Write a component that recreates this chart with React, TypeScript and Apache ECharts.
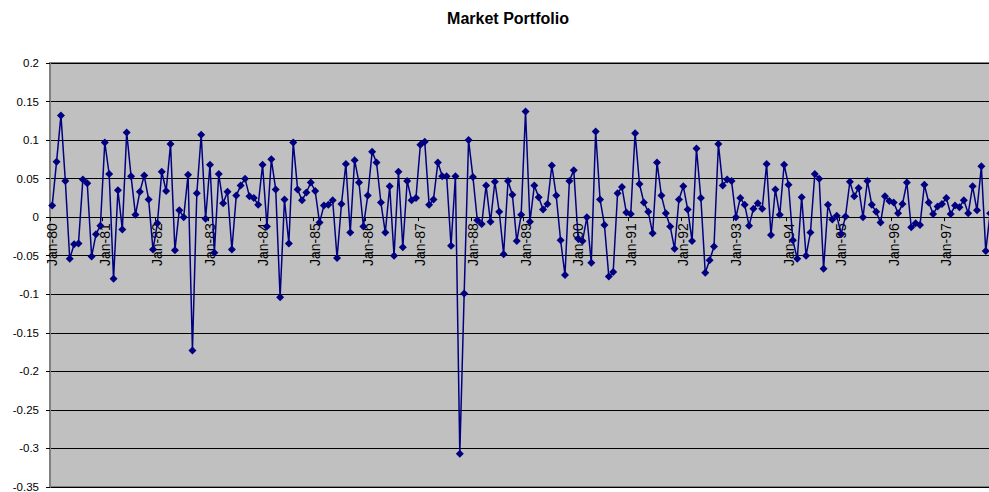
import React, { useEffect, useRef } from "react";
import * as echarts from "echarts";

const TITLE = "Market Portfolio";
const MONTHS = ["Jan", "Feb", "Mar", "Apr", "May", "Jun", "Jul", "Aug", "Sep", "Oct", "Nov", "Dec"];
const YEARS = ["80", "81", "82", "83", "84", "85", "86", "87", "88", "89", "90", "91", "92", "93", "94", "95", "96", "97"];

const r1980 = [0.015, 0.072, 0.132, 0.047, -0.054, -0.035, -0.034, 0.049, 0.044, -0.051, -0.022, -0.011];
const r1981 = [0.097, 0.056, -0.080, 0.035, -0.016, 0.110, 0.053, 0.003, 0.033, 0.054, 0.023, -0.042];
const r1982 = [-0.008, 0.059, 0.034, 0.095, -0.043, 0.009, 0.000, 0.055, -0.173, 0.031, 0.107, -0.002];
const r1983 = [0.068, -0.046, 0.056, 0.018, 0.033, -0.042, 0.028, 0.041, 0.050, 0.027, 0.025, 0.016];
const r1984 = [0.068, -0.012, 0.075, 0.036, -0.104, 0.023, -0.034, 0.097, 0.036, 0.022, 0.032, 0.045];
const r1985 = [0.034, -0.007, 0.015, 0.016, 0.022, -0.053, 0.017, 0.069, -0.020, 0.074, 0.045, -0.012];
const r1986 = [0.028, 0.085, 0.071, 0.019, -0.020, 0.040, -0.050, 0.059, -0.039, 0.047, 0.022, 0.025];
const r1987 = [0.094, 0.098, 0.016, 0.023, 0.071, 0.053, 0.053, -0.037, 0.053, -0.307, -0.099, 0.100];
const r1988 = [0.052, -0.004, -0.009, 0.041, -0.006, 0.046, 0.007, -0.048, 0.047, 0.029, -0.031, 0.003];
const r1989 = [0.137, -0.006, 0.041, 0.026, 0.010, 0.017, 0.067, 0.028, -0.030, -0.075, 0.047, 0.061];
const r1990 = [-0.028, -0.031, 0.000, -0.059, 0.111, 0.023, -0.010, -0.077, -0.071, 0.031, 0.039, 0.006];
const r1991 = [0.004, 0.109, 0.043, 0.019, 0.007, -0.021, 0.071, 0.028, 0.005, -0.012, -0.041, 0.023];
const r1992 = [0.040, 0.010, -0.031, 0.089, 0.025, -0.072, -0.056, -0.038, 0.095, 0.041, 0.049, 0.047];
const r1993 = [0.000, 0.025, 0.016, -0.011, 0.011, 0.018, 0.011, 0.069, -0.023, 0.036, 0.003, 0.068];
const r1994 = [0.042, -0.030, -0.054, 0.026, -0.050, -0.020, 0.056, 0.050, -0.067, 0.016, -0.003, 0.002];
const r1995 = [-0.022, 0.001, 0.046, 0.027, 0.038, 0.000, 0.047, 0.016, 0.007, -0.007, 0.027, 0.021];
const r1996 = [0.019, 0.005, 0.017, 0.045, -0.013, -0.008, -0.010, 0.042, 0.019, 0.004, 0.014, 0.017];
const r1997 = [0.025, 0.004, 0.015, 0.013, 0.022, 0.005, 0.040, 0.009, 0.066, -0.044, 0.005];

const Y_MIN = -0.35;
const Y_MAX = 0.2;
const Y_STEP = 0.05;

const GRID_TOP = 63;
const GRID_HEIGHT = 424;

export default function App() {
  const ref = useRef<HTMLDivElement>(null);

  useEffect(() => {
    if (!ref.current) return;
    const chart = echarts.init(ref.current, undefined, { renderer: "svg" });

    const categories: string[] = [];
    YEARS.forEach((y) => MONTHS.forEach((m) => categories.push(`${m}-${y}`)));
    const values = [
      ...r1980, ...r1981, ...r1982, ...r1983, ...r1984, ...r1985,
      ...r1986, ...r1987, ...r1988, ...r1989, ...r1990, ...r1991,
      ...r1992, ...r1993, ...r1994, ...r1995, ...r1996, ...r1997,
    ];

    const font = "Liberation Sans";
    // distance from the bottom of the plot to the zero line, in px
    const zeroOffset = (0 - Y_MIN) / (Y_MAX - Y_MIN) * GRID_HEIGHT;

    chart.setOption({
      animation: false,
      backgroundColor: "#ffffff",
      textStyle: { fontFamily: font },
      graphic: [
        {
          type: "text",
          x: 508,
          y: 18,
          style: {
            text: TITLE,
            fill: "#000",
            font: `bold 16px "${font}"`,
            textAlign: "center",
            textVerticalAlign: "middle",
            align: "center",
            verticalAlign: "middle",
          },
        },
      ],
      grid: {
        left: 50,
        top: GRID_TOP,
        width: 946.7,
        height: GRID_HEIGHT,
        show: true,
        backgroundColor: "#C0C0C0",
        borderColor: "#808080",
        borderWidth: 2,
        containLabel: false,
        outerBoundsMode: "none",
      },
      xAxis: {
        type: "category",
        data: categories,
        boundaryGap: true,
        position: "bottom",
        offset: -zeroOffset,
        axisLine: { show: true, onZero: false, lineStyle: { color: "#000", width: 1 } },
        axisTick: { show: true, interval: 11, length: 4, lineStyle: { color: "#000" } },
        axisLabel: {
          interval: 11,
          rotate: 90,
          margin: 6,
          fontSize: 14,
          color: "#000",
          fontFamily: font,
          hideOverlap: false,
        },
        splitLine: { show: false },
      },
      yAxis: {
        type: "value",
        min: Y_MIN,
        max: Y_MAX,
        interval: Y_STEP,
        axisLine: { show: true, lineStyle: { color: "#808080", width: 2 } },
        axisTick: { show: true, length: 4, lineStyle: { color: "#000" } },
        axisLabel: {
          margin: 11,
          fontSize: 11.5,
          color: "#000",
          fontFamily: font,
          showMinLabel: true,
          showMaxLabel: true,
          formatter: (v: number) => String(Math.round(v * 100) / 100),
        },
        splitLine: { show: true, lineStyle: { color: "#000", width: 1 } },
      },
      series: [
        {
          type: "line",
          data: values,
          symbol: "diamond",
          symbolSize: 8,
          showAllSymbol: true,
          itemStyle: { color: "#000080" },
          lineStyle: { color: "#000080", width: 1.5 },
          emphasis: { disabled: true },
          z: 3,
        },
      ],
    });

    return () => chart.dispose();
  }, []);

  return (
    <div
      style={{
        position: "fixed",
        left: 0,
        top: 0,
        width: 989,
        height: 492,
        overflow: "hidden",
        background: "#fff",
      }}
    >
      <div ref={ref} style={{ width: 1000, height: 492 }} />
    </div>
  );
}
